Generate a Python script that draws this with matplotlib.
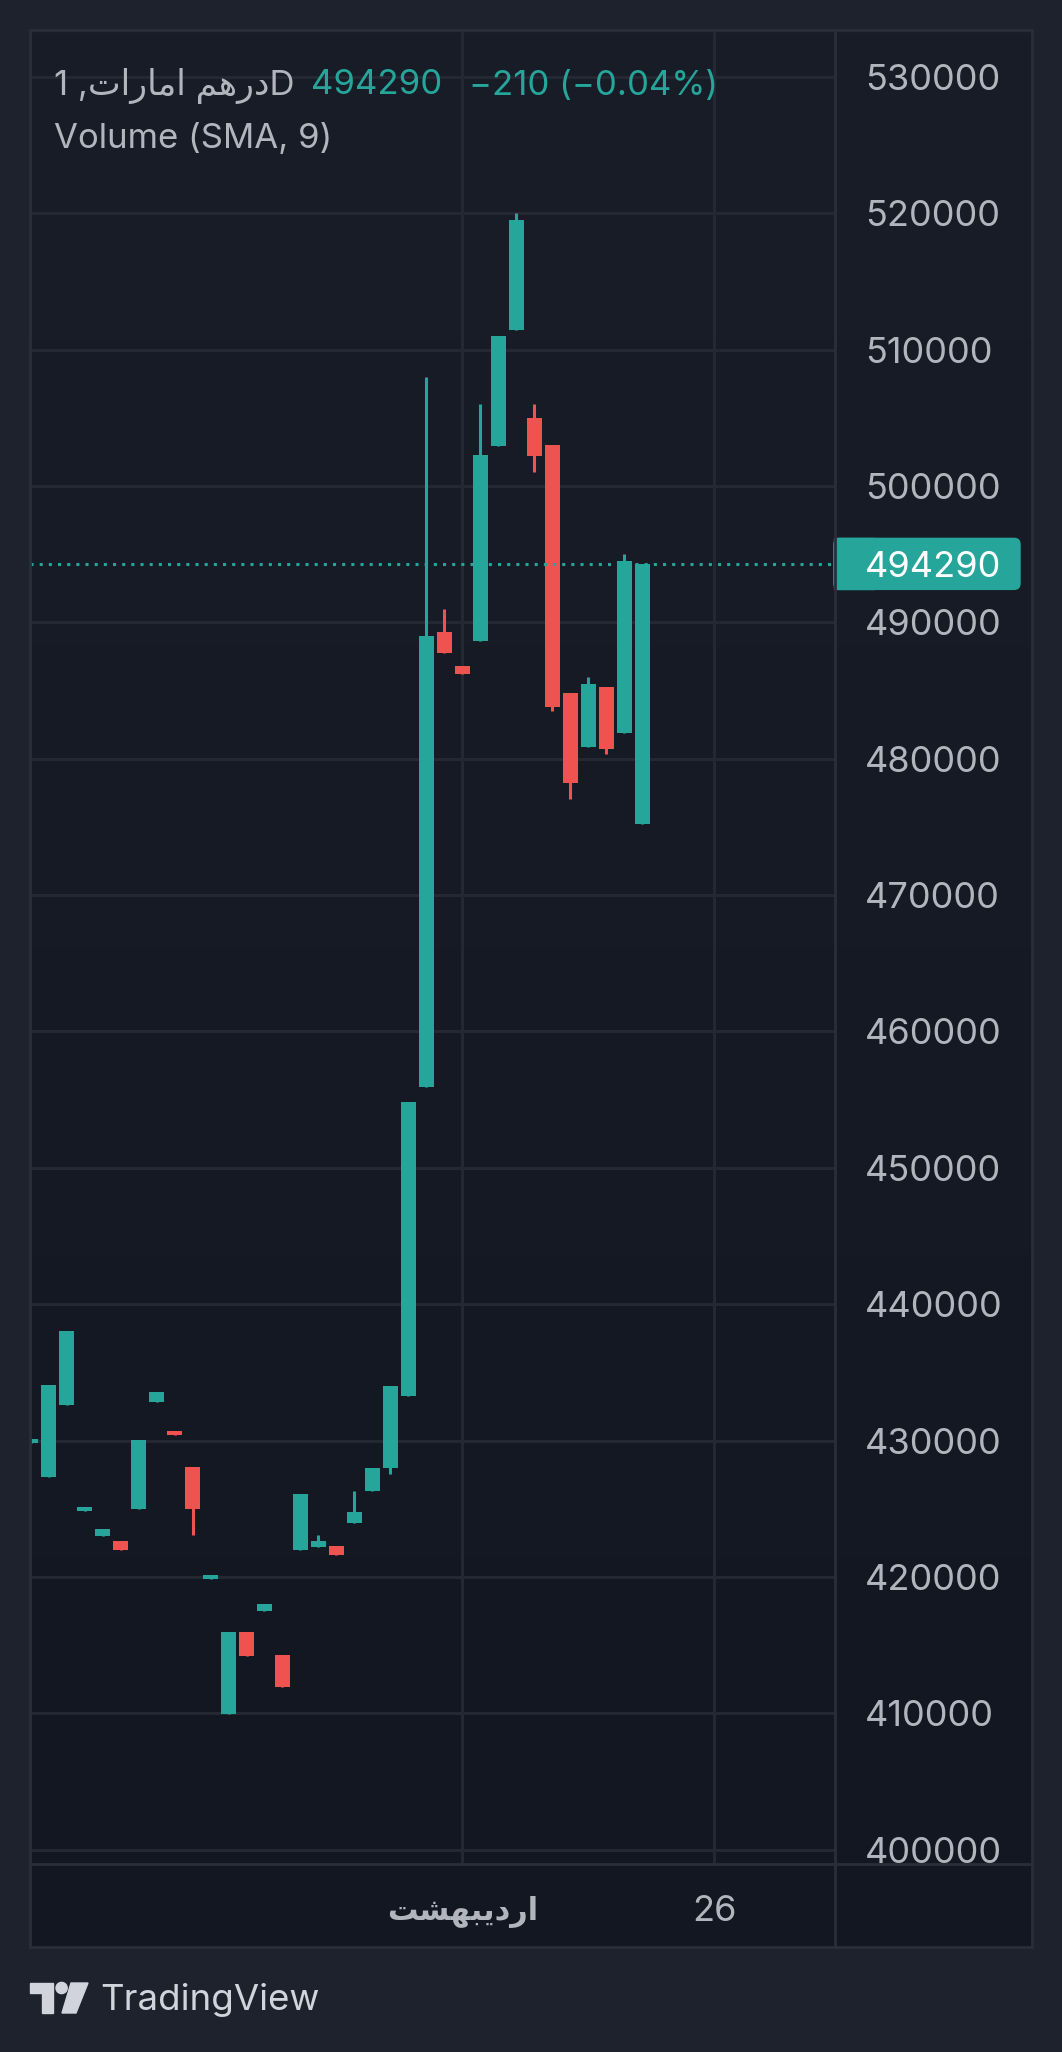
import numpy as np
import matplotlib.pyplot as plt
from matplotlib.patches import Rectangle, FancyBboxPatch, Polygon, Circle
from matplotlib.lines import Line2D
from matplotlib.transforms import Affine2D, blended_transform_factory
from matplotlib.colors import LinearSegmentedColormap

W, H = 1062, 2052

# daily candles, leftmost one is cut by the chart edge
opens  = [429850, 427300, 432600, 424850, 422970, 422600, 424950, 432820, 430690, 428040,
          419850, 409950, 415980, 417520, 414290, 421940, 422230, 422300, 423990, 426270,
          427970, 433260, 455930, 489290, 486810, 488640, 502950, 511450, 505010, 503030,
          484840, 480830, 485280, 481920, 475210]
highs  = [430150, 434070, 438040, 425150, 423550, 422600, 430020, 433550, 430690, 428040,
          420150, 415980, 415980, 418040, 414290, 426050, 423040, 422300, 426270, 427970,
          433990, 454830, 508010, 490970, 486810, 506030, 511010, 520020, 506030, 503030,
          484840, 486010, 485280, 494990, 494290]
lows   = [429850, 427300, 432600, 424850, 422970, 421940, 424950, 432820, 430390, 423040,
          419850, 409950, 414220, 417520, 411940, 421940, 422230, 421640, 423990, 426270,
          427520, 433260, 455930, 487760, 486230, 488640, 502950, 511450, 501050, 483530,
          477030, 480830, 480320, 481920, 475210]
closes = [430150, 434070, 438040, 425150, 423550, 421940, 430020, 433550, 430390, 424950,
          420150, 415980, 414220, 418040, 411940, 426050, 422600, 421640, 424730, 427970,
          433990, 454830, 489000, 487760, 486230, 502300, 511010, 519510, 502220, 483820,
          478200, 485500, 480680, 494480, 494290]

price_ticks = list(range(400000, 530001, 10000))
date_ticks = [24, 38]
# month name written in visual order with arabic presentation forms
date_labels = ['\uFE96\uFEB8\uFEEC\uFE92\uFBFE\uFEA9\uFEAD\uFE8D', '26']
last_price = 494290
change_txt = '\u2212210 (\u22120.04%)'
symbol_txt = '1 ,' + '\uFE95\uFE8D\uFEAD\uFE8E\uFEE3\uFE8D' + ' ' + '\uFEE2\uFEEB\uFEAD\uFEA9' + 'D'

UP = '#26a69a'
DOWN = '#ef5350'
GRID = '#242833'
BORDER = '#2a2e39'
TXT = '#b2b5be'

plt.rcParams['font.family'] = ['Inter', 'DejaVu Sans']

fig = plt.figure(figsize=(W / 100, H / 100), dpi=100, facecolor='#1e222d')
px = Affine2D().scale(1 / W, -1 / H).translate(0, 1) + fig.transFigure


def rect(x0, y0, x1, y1):
    return [x0 / W, 1 - y1 / H, (x1 - x0) / W, (y1 - y0) / H]


# gradient background of the chart + price scale
bg = fig.add_axes(rect(30, 30, 1032, 1864), zorder=0)
cm = LinearSegmentedColormap.from_list('bg', ['#191d28', '#131722'])
bg.imshow(np.linspace(0, 1, 256).reshape(-1, 1), aspect='auto', cmap=cm,
          extent=(0, 1, 0, 1), origin='upper')
bg.axis('off')

# time scale strip
fig.patches.append(Rectangle((30, 1864), 1002, 83, transform=px, color='#131722', zorder=0))

ax = fig.add_axes(rect(30, 30, 835, 1864), zorder=2)
ax.set_facecolor('none')

x = np.arange(len(opens))
o = np.array(opens)
c = np.array(closes)
cols = [UP if cc >= oo else DOWN for oo, cc in zip(o, c)]
ax.vlines(x, lows, highs, colors=cols, lw=2.2, zorder=3)
ax.bar(x, np.abs(c - o), bottom=np.minimum(o, c), width=0.83, color=cols, lw=0, zorder=3)

ax.axhline(last_price, color=UP, lw=2.2, linestyle=(0, (1, 2)), zorder=5)

ax.set_xlim(-0.03, 44.7)
ax.set_ylim(398950, 533440)
ax.set_xticks(date_ticks)
ax.set_yticks(price_ticks)
ax.set_yticklabels([str(p) for p in price_ticks])
ax.yaxis.tick_right()
ax.tick_params(axis='x', length=0, labelbottom=False)
ax.tick_params(axis='y', length=0, pad=21.6, labelsize=26, labelcolor=TXT)
ax.grid(True, color=GRID, lw=2.2, zorder=0)
ax.set_axisbelow(True)
for s in ax.spines.values():
    s.set_visible(False)

# date labels under the chart
xt = ax.get_xaxis_transform()
ax.text(date_ticks[0], -0.024, date_labels[0], transform=xt, ha='center', va='center_baseline',
        fontsize=22, fontweight='bold', color=TXT, family='DejaVu Sans', clip_on=False)
ax.text(date_ticks[1], -0.024, date_labels[1], transform=xt, ha='center', va='center_baseline',
        fontsize=26, color=TXT, clip_on=False)

# last price tag
fig.canvas.draw()
yp = H - ax.transData.transform((0, last_price))[1]
fig.patches.append(FancyBboxPatch((834, yp - 25.5), 186, 51, boxstyle='round,pad=0,rounding_size=6',
                                  transform=px, color=UP, zorder=6))
fig.patches.append(Rectangle((834, yp - 25.5), 40, 51, transform=px, color=UP, zorder=6))
fig.text(865, yp, str(last_price), transform=px, ha='left', va='center_baseline',
         fontsize=26, color='white', zorder=7)

# frame lines
fig.patches.append(Rectangle((30, 30), 1002, 1917, transform=px, fill=False, ec=BORDER, lw=2, zorder=8))
fig.lines.append(Line2D([835, 835], [30, 1947], transform=px, color=BORDER, lw=2, zorder=8))
fig.lines.append(Line2D([30, 1032], [1864, 1864], transform=px, color=BORDER, lw=2, zorder=8))

# legend texts
fig.text(54, 82, symbol_txt, transform=px, va='center_baseline', fontsize=25, color=TXT)
fig.text(311, 82, str(last_price), transform=px, va='center_baseline', fontsize=25, color=UP)
fig.text(469, 82, change_txt, transform=px, va='center_baseline', fontsize=25, color=UP)
fig.text(54, 136, 'Volume (SMA, 9)', transform=px, va='center_baseline', fontsize=25, color=TXT)

# TradingView logo
logo = '#d1d4dc'
fig.patches.append(Polygon([(30, 1983), (53, 1983), (53, 2013), (42, 2013), (42, 1993), (30, 1993)],
                           closed=True, transform=px, color=logo))
fig.patches.append(Circle((61.6, 1988), 5.6, transform=px, color=logo))
fig.patches.append(Polygon([(71, 1983), (88, 1983), (76, 2013), (62, 2013)],
                           closed=True, transform=px, color=logo))
fig.text(100, 2010, 'TradingView', transform=px, va='baseline', fontsize=26.4, color=logo)

fig.savefig('out.png', dpi=100, facecolor=fig.get_facecolor())
